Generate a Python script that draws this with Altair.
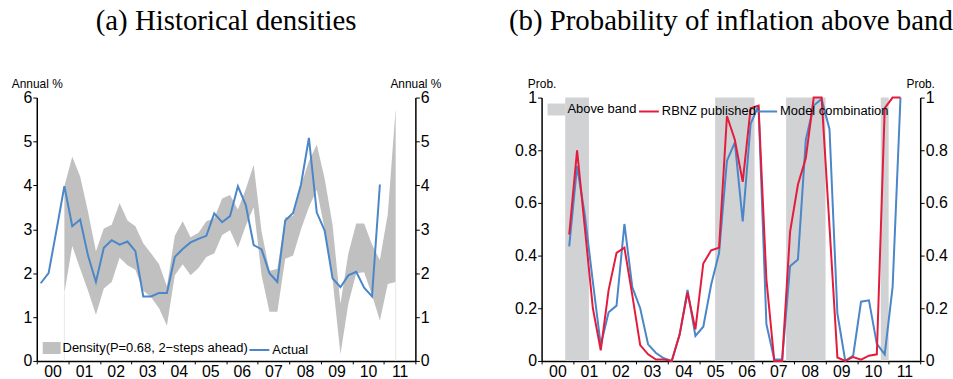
import altair as alt
import pandas as pd

# ---------------- data ----------------
actual_quarters = [f"{y}Q{q}" for y in range(2000, 2011) for q in range(1, 5)]
actual = [1.77, 2.00, 2.98, 3.98,
          3.07, 3.22, 2.40, 1.80,
          2.58, 2.75, 2.65, 2.72,
          2.50, 1.47, 1.47, 1.55,
          1.55, 2.37, 2.55, 2.70,
          2.78, 2.85, 3.36, 3.16,
          3.30, 3.98, 3.55, 2.64,
          2.54, 2.00, 1.80, 3.20,
          3.37, 4.02, 5.08, 3.38,
          2.97, 1.88, 1.68, 1.95,
          2.03, 1.67, 1.47, 4.02]

band_quarters = ["2000Q4"] + [f"{y}Q{q}" for y in range(2001, 2011) for q in range(1, 5)] + ["2011Q1", "2011Q2"]
band_upper = [3.98,
              4.65, 4.20, 3.40, 2.50,
              3.02, 3.10, 3.60, 3.20,
              3.07, 2.68, 2.45, 2.20,
              1.70, 2.85, 3.18, 2.82,
              2.92, 3.18, 3.25, 3.70,
              3.78, 3.45, 3.92, 4.47,
              2.95, 2.05, 2.10, 3.27,
              3.30, 4.00, 4.55, 4.93,
              4.15, 3.10, 1.30, 2.45,
              3.13, 3.13, 2.65, 2.30,
              3.35, 5.75]
band_lower = [1.54,
              2.62, 2.10, 1.60, 1.05,
              1.65, 1.80, 2.35, 2.18,
              2.08, 1.60, 1.45, 1.20,
              0.80, 1.95, 2.20, 1.95,
              2.12, 2.37, 2.45, 2.87,
              2.98, 2.58, 3.08, 3.50,
              1.95, 1.12, 1.12, 2.33,
              2.40, 3.00, 3.50, 3.90,
              3.00, 1.85, 0.15, 1.30,
              2.00, 2.02, 1.50, 0.92,
              1.75, 1.80]

prob_quarters = band_quarters
rbnz = [0.48,
        0.80, 0.50, 0.20, 0.04,
        0.27, 0.41, 0.43, 0.25,
        0.06, 0.025, 0.005, 0.005,
        0.00, 0.10, 0.26, 0.12,
        0.37, 0.42, 0.43, 0.93,
        0.84, 0.68, 0.96, 0.97,
        0.31, 0.00, 0.00, 0.49,
        0.67, 0.77, 1.00, 1.00,
        0.51, 0.013, 0.00, 0.015,
        0.005, 0.02, 0.025, 0.96,
        1.00, 1.00]
model = [0.435,
         0.74, 0.55, 0.30, 0.06,
         0.185, 0.21, 0.52, 0.28,
         0.20, 0.063, 0.03, 0.01,
         0.00, 0.10, 0.27, 0.095,
         0.13, 0.29, 0.41, 0.76,
         0.83, 0.53, 0.90, 0.97,
         0.14, 0.005, 0.005, 0.36,
         0.385, 0.84, 0.97, 0.995,
         0.88, 0.18, 0.00, 0.02,
         0.225, 0.23, 0.065, 0.025,
         0.28, 1.00]

above_start = ["2000Q4", "2005Q3", "2007Q4", "2010Q4"]
above_end = ["2001Q2", "2006Q3", "2008Q4", "2010Q4"]

year_ticks = list(range(2000, 2013))
left_ticks = [0, 1, 2, 3, 4, 5, 6]
right_ticks = [0, 0.2, 0.4, 0.6, 0.8, 1]

DENS = "Density(P=0.68, 2\u2212steps ahead)"
ACT = "Actual"
ABOVE = "Above band"
RB = "RBNZ published"
MC = "Model combination"

# ---------------- helpers ----------------
def qmid(label):
    return int(label[:4]) + (int(label[-1]) - 0.5) / 4

def qstart(label):
    return int(label[:4]) + (int(label[-1]) - 1) / 4

def qend(label):
    return int(label[:4]) + int(label[-1]) / 4

W, H = 381, 265
FONT = "Liberation Sans"
BLUE = "#4a86c8"
RED = "#e31c3d"
BANDC = "#c0c0c0"
SHADE = "#d1d2d4"

x_scale = alt.Scale(domain=[2000, 2012], nice=False, zero=False)
x_axis = alt.Axis(values=year_ticks,
                  labelExpr="datum.value >= 2012 ? '' : substring(toString(datum.value), 2, 4)",
                  labelOffset=15.9, tickSize=3, labelPadding=0, title=None, grid=False,
                  labelFontSize=16, labelFont=FONT, labelColor="black",
                  domainColor="black", domainWidth=1.5, tickColor="black", tickWidth=1,
                  labelAngle=0, labelFlush=False, labelOverlap=False)


def yaxis(orient, title, values, **kw):
    return alt.Axis(orient=orient, title=title, values=values, titleAngle=0,
                    titleAlign="center", titleBaseline="middle", titleX=0, titleY=-14,
                    titleFont=FONT, titleFontSize=12, titleFontWeight="normal",
                    titleColor="black", labelFont=FONT, labelFontSize=16,
                    labelColor="black", labelPadding=1, tickSize=4, tickColor="black",
                    tickWidth=1, domainColor="black", domainWidth=1.5, grid=False,
                    labelFlush=False, labelOverlap=False, **kw)


def fill_legend(x, y):
    return alt.Legend(title=None, orient="none", legendX=x, legendY=y,
                      symbolType="M-1,-0.667H1V0.667H-1Z", symbolSize=324,
                      symbolStrokeWidth=0, symbolOpacity=1, labelFont=FONT,
                      labelFontSize=13, labelColor="black", labelOffset=2, padding=0,
                      labelLimit=400)


def stroke_legend(x, y, colpad=2):
    return alt.Legend(title=None, orient="none", legendX=x, legendY=y, direction="horizontal",
                      symbolType="stroke", symbolSize=400, symbolStrokeWidth=2,
                      labelFont=FONT, labelFontSize=13, labelColor="black",
                      labelOffset=2, columnPadding=colpad, padding=0, labelLimit=400)


title_font = dict(font="Liberation Serif", fontSize=29, fontWeight="normal", color="black",
                  anchor="middle", frame="group", offset=42)

# ---------------- left panel ----------------
band_df = pd.DataFrame({"t": [qmid(q) for q in band_quarters],
                        "lower": band_lower, "upper": band_upper, "k": DENS})
edge_df = band_df.iloc[[0, len(band_df) - 1]].copy()
edge_df["zero"] = 0
actual_df = pd.DataFrame({"t": [qmid(q) for q in actual_quarters], "v": actual, "k": ACT})

y_left = alt.Scale(domain=[0, 6], nice=False)

band = alt.Chart(band_df).mark_area(opacity=1).encode(
    x=alt.X("t:Q", scale=x_scale, axis=x_axis),
    y=alt.Y("lower:Q", scale=y_left, axis=yaxis("left", "Annual %", left_ticks)),
    y2="upper:Q",
    fill=alt.Fill("k:N", scale=alt.Scale(domain=[DENS], range=[BANDC]), legend=fill_legend(6, 243)),
)
edges = alt.Chart(edge_df).mark_rule(color="#e8e8e8", strokeWidth=1).encode(
    x=alt.X("t:Q", scale=x_scale, axis=x_axis),
    y=alt.Y("zero:Q", scale=y_left, axis=yaxis("left", "Annual %", left_ticks)),
    y2="lower:Q",
)
act_line = alt.Chart(actual_df).mark_line(strokeWidth=2).encode(
    x=alt.X("t:Q", scale=x_scale, axis=x_axis),
    y=alt.Y("v:Q", scale=y_left, axis=yaxis("right", "Annual %", left_ticks)),
    stroke=alt.Stroke("k:N", scale=alt.Scale(domain=[ACT], range=[BLUE]), legend=stroke_legend(213, 243)),
)
left_base = alt.layer(band, edges)
left = alt.layer(left_base, act_line).resolve_axis(y="independent").properties(
    width=W, height=H, title=alt.TitleParams("(a) Historical densities", **title_font))

# ---------------- right panel ----------------
shade_df = pd.DataFrame({"start": [qstart(q) for q in above_start],
                         "end": [qend(q) for q in above_end], "k": ABOVE})
model_df = pd.DataFrame({"t": [qmid(q) for q in prob_quarters], "v": model, "k": MC})
rbnz_df = pd.DataFrame({"t": [qmid(q) for q in prob_quarters], "v": rbnz, "k": RB})

y_right = alt.Scale(domain=[0, 1], nice=False)
stroke_scale = alt.Scale(domain=[RB, MC], range=[RED, BLUE])

shade = alt.Chart(shade_df).mark_rect(opacity=1).encode(
    x=alt.X("start:Q", scale=x_scale, axis=x_axis),
    x2="end:Q",
    y=alt.value(0),
    y2=alt.value(H),
    fill=alt.Fill("k:N", scale=alt.Scale(domain=[ABOVE], range=[SHADE]), legend=fill_legend(6, 3)),
)
blue_line = alt.Chart(model_df).mark_line(strokeWidth=2).encode(
    x=alt.X("t:Q", scale=x_scale, axis=x_axis),
    y=alt.Y("v:Q", scale=y_right, axis=yaxis("left", "Prob.", right_ticks, format="~g")),
    stroke=alt.Stroke("k:N", scale=stroke_scale, legend=stroke_legend(97, 3, -7)),
)
red_line = alt.Chart(rbnz_df).mark_line(strokeWidth=2).encode(
    x=alt.X("t:Q", scale=x_scale, axis=x_axis),
    y=alt.Y("v:Q", scale=y_right, axis=yaxis("right", "Prob.", right_ticks, format="~g")),
    stroke=alt.Stroke("k:N", scale=stroke_scale, legend=stroke_legend(97, 3, -7)),
)
right = alt.layer(shade, blue_line, red_line).resolve_axis(y="independent").properties(
    width=W, height=H, title=alt.TitleParams("(b) Probability of inflation above band", **title_font))

chart = alt.hconcat(left, right, spacing=127, bounds="flush").resolve_scale(
    fill="independent", stroke="independent"
).resolve_legend(
    fill="independent", stroke="independent"
).properties(
    padding={"left": 11, "top": 6, "right": 0, "bottom": 0},
    background="white",
).configure_view(stroke=None)

chart.save("out.html", embed_options={"renderer": "svg", "actions": False})
